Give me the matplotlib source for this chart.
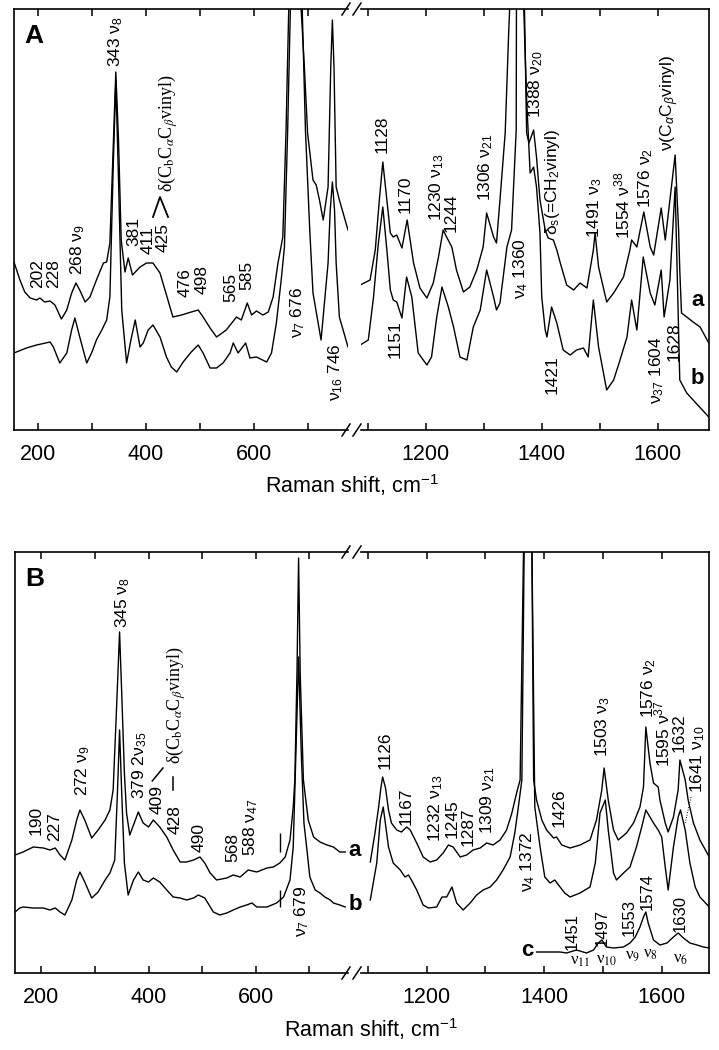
import matplotlib
matplotlib.use("Agg")
import matplotlib.pyplot as plt
from matplotlib.lines import Line2D

plt.rcParams['font.family'] = ['Liberation Sans', 'DejaVu Sans']
plt.rcParams['mathtext.fontset'] = 'custom'
plt.rcParams['mathtext.rm'] = 'Liberation Sans'
plt.rcParams['mathtext.it'] = 'Liberation Sans:italic'
plt.rcParams['mathtext.bf'] = 'Liberation Sans:bold'

# ---------------- Panel A data (x: Raman shift cm-1, y: relative intensity) -------------
A_low_x_a = [155, 166, 175, 185, 197, 203, 212, 222, 231, 243, 253, 262, 270, 277, 287, 296, 308, 321, 327, 333,
             339, 344, 349, 354, 361, 367, 375, 389, 401, 413, 426, 438, 450, 466, 484, 497, 506, 519, 531, 549,
             568, 577, 588, 596, 605, 617, 627, 636, 645, 654, 660, 665, 676, 688, 694, 700, 710, 716, 722, 729,
             738, 743, 746, 749, 753, 759, 775]
A_low_y_a = [168, 150, 138, 132, 130, 132, 128, 129, 125, 111, 120, 137, 147, 140, 128, 133, 150, 167, 168, 187,
             280, 358, 290, 190, 158, 172, 155, 163, 167, 167, 157, 135, 113, 115, 118, 120, 113, 102, 93, 100,
             113, 110, 127, 115, 119, 115, 118, 133, 167, 193, 300, 421, 900, 421, 363, 297, 250, 245, 230, 210,
             243, 363, 410, 363, 243, 230, 200]
A_low_x_b = [155, 178, 197, 222, 228, 240, 253, 262, 268, 277, 290, 299, 308, 318, 327, 333, 339, 344, 349, 355,
             364, 372, 380, 389, 395, 404, 413, 426, 438, 447, 457, 469, 484, 497, 506, 519, 531, 543, 556, 562,
             571, 585, 593, 605, 624, 633, 642, 651, 657, 663, 668, 676, 690, 696, 704, 710, 725, 738, 742, 746,
             750, 753, 759, 775]
A_low_y_b = [77, 82, 85, 88, 83, 67, 77, 100, 112, 93, 67, 77, 90, 100, 110, 133, 260, 350, 250, 120,
             67, 90, 110, 83, 87, 100, 105, 93, 73, 63, 58, 68, 78, 85, 77, 62, 62, 67, 77, 87,
             77, 87, 72, 73, 68, 77, 107, 150, 183, 300, 421, 900, 421, 300, 200, 137, 90, 167, 220, 248,
             220, 167, 113, 83]
A_high_x_a = [1087, 1104, 1113, 1120, 1126, 1133, 1139, 1144, 1150, 1159, 1168, 1179, 1190, 1202, 1213, 1222, 1230,
              1236, 1245, 1253, 1265, 1276, 1288, 1299, 1305, 1317, 1322, 1328, 1337, 1343, 1346, 1358, 1370, 1372,
              1374, 1378, 1386, 1391, 1397, 1406, 1411, 1420, 1426, 1432, 1443, 1455, 1466, 1478, 1489, 1492, 1498,
              1512, 1524, 1541, 1552, 1555, 1564, 1576, 1587, 1593, 1606, 1613, 1630, 1636, 1638, 1641, 1650, 1661,
              1673, 1688]
A_high_y_a = [145, 150, 180, 230, 268, 230, 197, 193, 195, 182, 210, 167, 142, 132, 147, 173, 200,
              193, 183, 160, 138, 143, 160, 183, 217, 193, 187, 230, 297, 397, 440, 900, 430, 363,
              297, 287, 300, 273, 230, 200, 192, 190, 180, 167, 145, 140, 147, 142, 180, 197, 163,
              128, 137, 153, 180, 190, 183, 218, 183, 175, 222, 190, 275, 200, 160, 117, 113, 108,
              103, 87]
A_high_x_b = [1087, 1101, 1110, 1118, 1126, 1133, 1139, 1144, 1150, 1159, 1167, 1176, 1187, 1202, 1210, 1219, 1228,
              1239, 1248, 1259, 1271, 1282, 1294, 1305, 1317, 1322, 1328, 1340, 1348, 1356, 1358, 1368, 1374, 1380,
              1386, 1391, 1397, 1400, 1406, 1409, 1417, 1426, 1437, 1449, 1460, 1472, 1480, 1489, 1498, 1512, 1524,
              1535, 1547, 1555, 1564, 1575, 1587, 1595, 1606, 1611, 1621, 1630, 1638, 1650, 1661, 1688]
A_high_y_b = [85, 90, 133, 185, 223, 180, 140, 130, 128, 112, 153, 133, 77, 65, 73, 113, 143,
              123, 103, 73, 70, 103, 120, 160, 133, 120, 127, 183, 200, 300, 900, 440, 330, 257,
              263, 243, 197, 133, 100, 93, 123, 107, 80, 75, 80, 82, 73, 130, 83, 40, 50,
              70, 93, 130, 100, 173, 137, 125, 160, 113, 150, 243, 50, 37, 30, 13]

# ---------------- Panel B data ----------------
B_low_x_a = [151, 166, 185, 204, 216, 226, 235, 244, 257, 266, 272, 281, 294, 306, 319, 328, 334, 340, 346, 350,
             355, 359, 365, 381, 390, 400, 409, 421, 434, 446, 459, 471, 484, 496, 505, 515, 527, 546, 558, 571,
             586, 602, 621, 633, 645, 655, 664, 670, 673, 677, 680, 683, 689, 698, 708, 720, 733, 745, 757, 767]
B_low_y_a = [118, 121, 126, 125, 123, 125, 118, 113, 133, 153, 163, 153, 135, 143, 153, 163, 183, 260, 341, 280,
             200, 160, 138, 161, 150, 146, 153, 146, 136, 123, 111, 111, 113, 116, 110, 100, 93, 95, 98, 96,
             103, 101, 105, 106, 110, 116, 133, 166, 193, 300, 415, 300, 193, 153, 136, 131, 128, 126, 121, 121]
B_low_x_b = [151, 160, 166, 185, 204, 216, 226, 235, 244, 257, 266, 272, 281, 294, 306, 319, 328, 337, 342, 346,
             350, 355, 362, 372, 381, 390, 400, 409, 421, 434, 446, 459, 471, 484, 493, 505, 521, 533, 546, 558,
             571, 583, 593, 602, 621, 639, 652, 664, 670, 675, 680, 685, 690, 695, 701, 711, 720, 729, 739, 745,
             757, 767]
B_low_y_b = [61, 65, 66, 65, 65, 63, 65, 61, 58, 73, 93, 101, 91, 75, 81, 93, 100, 113, 180, 243,
             180, 110, 78, 93, 101, 93, 91, 95, 91, 83, 76, 75, 73, 75, 78, 75, 61, 58, 60, 63,
             66, 68, 70, 66, 66, 70, 76, 93, 126, 220, 316, 220, 150, 126, 96, 83, 80, 76, 73, 70,
             68, 66]
B_high_x_a = [1104, 1112, 1118, 1122, 1125, 1130, 1135, 1140, 1149, 1157, 1166, 1172, 1183, 1194, 1206, 1217, 1228,
              1237, 1245, 1257, 1268, 1279, 1291, 1302, 1313, 1325, 1336, 1345, 1353, 1359, 1365, 1372, 1379, 1382,
              1387, 1396, 1404, 1416, 1421, 1430, 1444, 1461, 1478, 1489, 1498, 1502, 1509, 1518, 1526, 1540, 1552,
              1563, 1569, 1573, 1580, 1586, 1594, 1597, 1606, 1611, 1620, 1628, 1631, 1640, 1645, 1654, 1665, 1681]
B_high_y_a = [111, 140, 165, 185, 196, 185, 163, 150, 143, 141, 146, 143, 130, 116, 111, 113, 120,
              128, 126, 116, 118, 123, 125, 130, 128, 133, 143, 160, 180, 193, 430, 900, 430, 193,
              173, 153, 143, 135, 136, 128, 125, 128, 133, 153, 183, 205, 173, 143, 133, 140, 150,
              166, 186, 246, 210, 190, 186, 173, 150, 141, 156, 183, 213, 193, 173, 150, 133, 116]
B_high_x_b = [1104, 1115, 1121, 1126, 1135, 1143, 1155, 1163, 1169, 1174, 1183, 1194, 1203, 1217, 1226, 1234, 1243,
              1251, 1262, 1274, 1285, 1296, 1308, 1319, 1330, 1342, 1350, 1356, 1362, 1366, 1372, 1379, 1384, 1393,
              1401, 1410, 1418, 1427, 1435, 1444, 1461, 1478, 1487, 1495, 1504, 1509, 1518, 1523, 1535, 1546, 1557,
              1566, 1573, 1580, 1586, 1594, 1600, 1606, 1611, 1620, 1628, 1632, 1640, 1648, 1657, 1665, 1681]
B_high_y_b = [73, 110, 153, 166, 126, 110, 103, 96, 98, 93, 83, 68, 65, 66, 76, 76, 86,
              70, 63, 70, 78, 83, 86, 93, 103, 116, 140, 166, 193, 430, 900, 430, 166, 126,
              96, 90, 93, 86, 80, 76, 80, 86, 110, 160, 173, 143, 100, 93, 100, 106, 126,
              146, 163, 156, 150, 143, 136, 106, 83, 126, 156, 163, 143, 110, 86, 76, 66]
B_high_x_c = [1387, 1404, 1427, 1438, 1455, 1472, 1484, 1492, 1498, 1506, 1518, 1535, 1546, 1555, 1563, 1569, 1573,
              1577, 1586, 1597, 1609, 1620, 1628, 1637, 1648, 1660, 1671, 1681]
B_high_y_c = [21, 21, 21, 20, 23, 20, 23, 30, 33, 26, 25, 26, 30, 36, 46, 56, 61,
              50, 33, 28, 30, 36, 40, 35, 30, 28, 26, 25]
B_spike_x = [645, 645]
B_spike_y0 = [121, 66]
B_spike_y1 = [140, 83]

# ---------------- Peak labels ----------------
A_low_labels = [(198, 156, '202'), (229, 156, '228'), (274, 180, '268 ν$_9$'), (344, 388, '343 ν$_8$'),
                (378, 199, '381'), (404, 190, '411'), (432, 192, '425'), (472, 147, '476'), (505, 150, '498'),
                (557, 143, '565'), (588, 155, '585'), (682, 118, 'ν$_7$ 676'), (752, 58, 'ν$_{16}$ 746')]
A_high_labels = [(1125, 296, '1128'), (1165, 236, '1170'), (1218, 243, '1230 ν$_{13}$'), (1244, 217, '1244'),
                 (1304, 263, '1306 ν$_{21}$'), (1363, 161, 'ν$_4$ 1360'), (1390, 346, '1388 ν$_{20}$'),
                 (1491, 222, '1491 ν$_3$'), (1539, 225, '1554 ν$^{38}$'), (1579, 252, '1576 ν$_2$'),
                 (1148, 91, '1151'), (1418, 55, '1421'), (1598, 60, 'ν$_{37}$ 1604'), (1629, 88, '1628'),
                 (1418, 248, 'δ$_\\mathrm{s}$(=CH$_2$vinyl)'), (1620, 327, 'ν(C$_α$C$_β$vinyl)')]
B_low_labels = [(190, 153, '190'), (224, 146, '227'), (278, 202, '272 ν$_9$'), (351, 370, '345 ν$_8$'),
                (384, 208, '379 2ν$_{35}$'), (416, 174, '409'), (449, 153, '428'), (494, 135, '490'),
                (558, 125, '568'), (590, 146, '588 ν$_{47}$'), (686, 62, 'ν$_7$ 679')]
B_high_labels = [(1129, 223, '1126'), (1165, 167, '1167'), (1216, 165, '1232 ν$_{13}$'), (1243, 154, '1245'),
                 (1271, 146, '1287'), (1303, 173, '1309 ν$_{21}$'), (1372, 111, 'ν$_4$ 1372'), (1425, 165, '1426'),
                 (1500, 246, '1503 ν$_3$'), (1578, 285, '1576 ν$_2$'), (1602, 239, '1595 ν$^{37}$'),
                 (1630, 240, '1632'), (1661, 214, '1641 ν$_{10}$')]
C_labels = [(1447, 41, '1451'), (1498, 46, '1497'), (1544, 55, '1553'), (1575, 81, '1574'), (1631, 60, '1630')]
C_modes = [(1461, 12, 'ν$_{11}$'), (1506, 13, 'ν$_{10}$'), (1550, 17, 'ν$_9$'), (1581, 19, 'ν$_8$'), (1632, 14, 'ν$_6$')]
DELTA_TXT = 'δ(C$_\\mathrm{b}$C$_α$C$_β$vinyl)'

low_ticks_major = [200, 400, 600]
low_ticks_minor = [300, 500, 700]
high_ticks_major = [1200, 1400, 1600]
high_ticks_minor = [1100, 1300, 1500]

W, H = 719, 1050
fig = plt.figure(figsize=(W / 100, H / 100), dpi=100)


def px_axes(x0, x1, ytop, ybot):
    return fig.add_axes([x0 / W, 1 - ybot / H, (x1 - x0) / W, (ybot - ytop) / H])


def style(ax, side, maj, mino, xlim):
    ax.set_xlim(*xlim)
    ax.set_ylim(0, 421)
    ax.set_yticks([])
    ax.set_xticks(maj)
    ax.set_xticks(mino, minor=True)
    ax.tick_params(axis='x', which='both', direction='in', top=True, bottom=True,
                   length=5, width=1.1, labelsize=15.5, pad=10)
    ax.tick_params(axis='x', which='minor', labelbottom=False)
    for s in ax.spines.values():
        s.set_linewidth(1.2)
    if side == 'left':
        ax.spines['right'].set_visible(False)
    else:
        ax.spines['left'].set_visible(False)
    ax.set_facecolor('none')


def lab(ax, x, y, s, size=12.5, rot=90, fam=None, mff='custom'):
    ax.text(x, y, s, rotation=rot, ha='center', va='center', fontsize=size,
            family=fam or ['Liberation Sans', 'DejaVu Sans'], math_fontfamily=mff, clip_on=False)


def breaks(ytop, ybot):
    for y in (ytop, ybot):
        for x0 in (342, 353):
            fig.add_artist(Line2D([x0 / W, (x0 + 8) / W], [1 - (y + 6) / H, 1 - (y - 6) / H],
                                  transform=fig.transFigure, color='black', lw=1.1))


lw = 1.0
SERIF = ['Liberation Serif', 'DejaVu Serif']
# ---- Panel A ----
axAL = px_axes(14, 348, 9, 430)
axAR = px_axes(361, 709, 9, 430)
style(axAL, 'left', low_ticks_major, low_ticks_minor, (155, 775))
style(axAR, 'right', high_ticks_major, high_ticks_minor, (1088.4, 1688.4))
axAL.plot(A_low_x_a, A_low_y_a, color='black', lw=lw)
axAL.plot(A_low_x_b, A_low_y_b, color='black', lw=lw)
axAR.plot(A_high_x_a, A_high_y_a, color='black', lw=lw)
axAR.plot(A_high_x_b, A_high_y_b, color='black', lw=lw)
for x, y, s in A_low_labels:
    lab(axAL, x, y, s)
for x, y, s in A_high_labels:
    lab(axAR, x, y, s)
lab(axAL, 441, 297, DELTA_TXT, size=13, fam=SERIF, mff='stix')
axAL.plot([413, 426, 441], [213, 233, 213], color='black', lw=1.3)   # bracket joining 411/425
axAL.text(0.03, 0.935, 'A', transform=axAL.transAxes, fontsize=19, fontweight='bold', ha='left', va='center')
axAR.text(1668, 130, 'a', fontsize=16, fontweight='bold', ha='center', va='center')
axAR.text(1668, 52, 'b', fontsize=16, fontweight='bold', ha='center', va='center')
breaks(9, 430)
fig.text(352 / W, 1 - 485 / H, 'Raman shift, cm$^{-1}$', ha='center', va='center', fontsize=15.5)

# ---- Panel B ----
axBL = px_axes(15, 348, 552, 973)
axBR = px_axes(361, 709, 552, 973)
style(axBL, 'left', low_ticks_major, low_ticks_minor, (150.9, 772.2))
style(axBR, 'right', high_ticks_major, high_ticks_minor, (1088.2, 1680.5))
axBL.plot(B_low_x_a, B_low_y_a, color='black', lw=lw)
axBL.plot(B_low_x_b, B_low_y_b, color='black', lw=lw)
axBL.vlines(B_spike_x, B_spike_y0, B_spike_y1, color='black', lw=lw)
axBR.plot(B_high_x_a, B_high_y_a, color='black', lw=lw)
axBR.plot(B_high_x_b, B_high_y_b, color='black', lw=lw)
axBR.plot(B_high_x_c, B_high_y_c, color='black', lw=lw)
for x, y, s in B_low_labels:
    lab(axBL, x, y, s)
for x, y, s in B_high_labels:
    lab(axBR, x, y, s)
for x, y, s in C_labels:
    lab(axBR, x, y, s, size=12)
for x, y, s in C_modes:
    lab(axBR, x, y, s, size=12, rot=0, fam=SERIF, mff='stix')
lab(axBL, 451, 268, DELTA_TXT, size=13, fam=SERIF, mff='stix')
axBL.plot([407, 427], [192, 205], color='black', lw=1.1)
axBL.plot([446, 446], [183, 196], color='black', lw=1.1)
axBR.plot([1650, 1640], [176, 150], color='black', lw=0.7, ls=':')
axBL.text(0.03, 0.935, 'B', transform=axBL.transAxes, fontsize=19, fontweight='bold', ha='left', va='center')
fig.text(355 / W, 1 - 850 / H, 'a', fontsize=16, fontweight='bold', ha='center', va='center')
fig.text(355 / W, 1 - 905 / H, 'b', fontsize=16, fontweight='bold', ha='center', va='center')
axBR.text(1371, 23, 'c', fontsize=16, fontweight='bold', ha='center', va='center')
breaks(552, 973)
fig.text(371 / W, 1 - 1029 / H, 'Raman shift, cm$^{-1}$', ha='center', va='center', fontsize=15.5)

fig.savefig('out.png', dpi=100)
